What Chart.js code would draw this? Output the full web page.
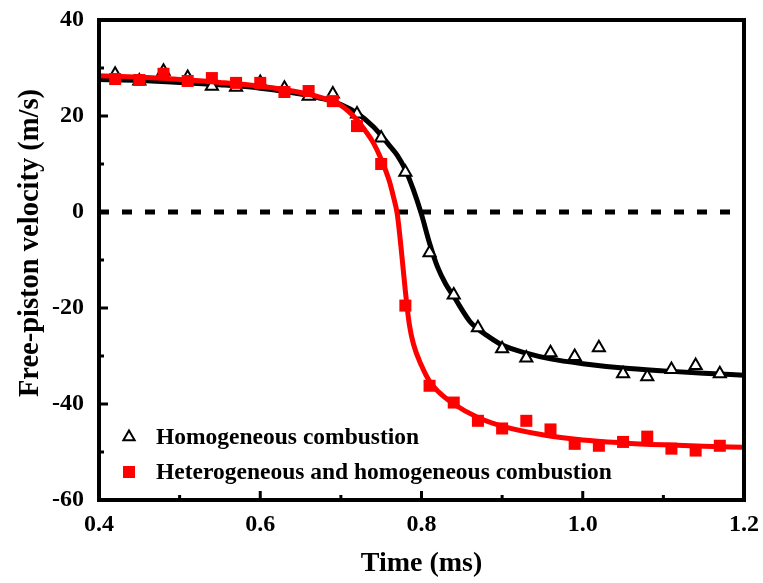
<!DOCTYPE html>
<html>
<head>
<meta charset="utf-8">
<script src="https://cdn.jsdelivr.net/npm/chart.js@4/dist/chart.umd.min.js"></script>
<style>
  html, body { margin: 0; padding: 0; background: #ffffff; }
  #wrap { width: 763px; height: 583px; }
</style>
</head>
<body>
<div id="wrap"><canvas id="c" width="763" height="583"></canvas></div>
<script>
// ---- data ----
const times = [0.42, 0.45, 0.48, 0.51, 0.54, 0.57, 0.60, 0.63, 0.66, 0.69, 0.72, 0.75, 0.78,
               0.81, 0.84, 0.87, 0.90, 0.93, 0.96, 0.99, 1.02, 1.05, 1.08, 1.11, 1.14, 1.17];
const homogeneous = [28.7, 27.3, 29.3, 28.0, 26.2, 26.0, 27.0, 25.8, 24.1, 24.6, 20.4, 15.4, 8.3,
                     -8.5, -17.3, -24.1, -28.5, -30.4, -29.3, -30.1, -28.3, -33.7, -34.3, -32.8, -32.0, -33.7];
const heterogeneous = [27.7, 27.5, 28.8, 27.3, 27.9, 26.9, 26.9, 25.0, 25.2, 23.1, 17.9, 10.0, -19.5,
                       -36.2, -39.7, -43.5, -45.1, -43.5, -45.3, -48.3, -48.7, -47.9, -46.8, -49.3, -49.7, -48.7];

const homFitT = [0.40, 0.45, 0.50, 0.55, 0.60, 0.65, 0.68, 0.70, 0.72, 0.74, 0.76, 0.77, 0.78, 0.79, 0.80,
                 0.81, 0.82, 0.83, 0.84, 0.86, 0.87, 0.88, 0.90, 0.93, 0.96, 1.00, 1.05, 1.10, 1.15, 1.20];
const homFitV = [27.6, 27.4, 27.0, 26.5, 25.8, 24.6, 23.5, 22.4, 20.6, 17.8, 13.9, 11.8, 8.8, 4.6, -0.5,
                 -6.5, -11.5, -15.0, -17.6, -22.8, -24.4, -25.6, -27.7, -29.4, -30.6, -31.6, -32.5, -33.1, -33.6, -34.0];
const hetFitT = [0.40, 0.45, 0.50, 0.55, 0.60, 0.65, 0.68, 0.70, 0.72, 0.73, 0.74, 0.75, 0.76, 0.765, 0.77,
                 0.775, 0.78, 0.785, 0.79, 0.80, 0.81, 0.82, 0.84, 0.87, 0.90, 0.95, 1.00, 1.05, 1.10, 1.15, 1.20];
const hetFitV = [28.4, 28.1, 27.6, 27.0, 26.2, 24.9, 23.6, 22.2, 19.2, 17.0, 14.5, 11.0, 6.5, 3.3, -0.5,
                 -8.0, -16.5, -23.5, -27.5, -32.0, -35.3, -37.3, -40.0, -42.8, -44.6, -46.4, -47.5, -48.1, -48.5, -48.8, -49.0];

const zeroLineT = [0.4, 1.2];
const zeroLineV = [0, 0];

const xMajorTicks = [0.4, 0.6, 0.8, 1.0, 1.2];
const xMinorTicks = [0.5, 0.7, 0.9, 1.1];
const yMajorTicks = [40, 20, 0, -20, -40, -60];
const yMinorTicks = [30, 10, -10, -30, -50];

const legendLabels = ['Homogeneous combustion', 'Heterogeneous and homogeneous combustion'];
const xTitle = 'Time (ms)';
const yTitle = 'Free-piston velocity (m/s)';

// ---- helpers ----
const pts = (xs, ys) => xs.map((x, i) => ({ x: x, y: ys[i] }));
const SERIF = '"Liberation Serif", "Times New Roman", "DejaVu Serif", serif';

const framePlugin = {
  id: 'framePlugin',
  afterDatasetsDraw(chart) {
    const ctx = chart.ctx;
    const a = chart.chartArea;
    const xs = chart.scales.x, ys = chart.scales.y;
    ctx.save();
    ctx.strokeStyle = '#000';
    ctx.lineCap = 'butt';
    // inward ticks
    ctx.lineWidth = 3;
    xMajorTicks.forEach(v => { const p = xs.getPixelForValue(v); ctx.beginPath(); ctx.moveTo(p, a.bottom); ctx.lineTo(p, a.bottom - 9); ctx.stroke(); });
    xMinorTicks.forEach(v => { const p = xs.getPixelForValue(v); ctx.beginPath(); ctx.moveTo(p, a.bottom); ctx.lineTo(p, a.bottom - 5); ctx.stroke(); });
    yMajorTicks.forEach(v => { const p = ys.getPixelForValue(v); ctx.beginPath(); ctx.moveTo(a.left, p); ctx.lineTo(a.left + 9, p); ctx.stroke(); });
    yMinorTicks.forEach(v => { const p = ys.getPixelForValue(v); ctx.beginPath(); ctx.moveTo(a.left, p); ctx.lineTo(a.left + 5, p); ctx.stroke(); });
    // frame
    ctx.lineWidth = 4;
    ctx.strokeRect(a.left, a.top, a.right - a.left, a.bottom - a.top);

    // legend
    ctx.font = 'bold 23.5px ' + SERIF;
    ctx.textBaseline = 'alphabetic';
    ctx.textAlign = 'left';
    const lx = 129, ly1 = 437, ly2 = 472;
    ctx.beginPath();
    const r = 6.5;
    ctx.moveTo(lx, ly1 - r);
    ctx.lineTo(lx + r * 0.866, ly1 + r * 0.5);
    ctx.lineTo(lx - r * 0.866, ly1 + r * 0.5);
    ctx.closePath();
    ctx.fillStyle = '#fff';
    ctx.fill();
    ctx.lineWidth = 2;
    ctx.strokeStyle = '#000';
    ctx.stroke();
    ctx.fillStyle = '#ff0000';
    ctx.fillRect(lx - 6, ly2 - 6, 12, 12);
    ctx.fillStyle = '#000';
    ctx.fillText(legendLabels[0], 156, 444);
    ctx.fillText(legendLabels[1], 156, 479);

    // y title
    ctx.save();
    ctx.font = 'bold 28.5px ' + SERIF;
    ctx.translate(31, 243);
    ctx.rotate(-Math.PI / 2);
    ctx.textAlign = 'center';
    ctx.textBaseline = 'middle';
    ctx.fillText(yTitle, 0, 0);
    ctx.restore();
    ctx.restore();
  }
};

new Chart(document.getElementById('c'), {
  type: 'line',
  data: {
    datasets: [
      { label: 'zero', data: pts(zeroLineT, zeroLineV), borderColor: '#000', borderWidth: 5,
        borderDash: [10, 13], pointRadius: 0, order: 6 },
      { label: 'Homogeneous fit', data: pts(homFitT, homFitV), borderColor: '#000', borderWidth: 5,
        pointRadius: 0, cubicInterpolationMode: 'monotone', order: 5 },
      { label: legendLabels[0], data: pts(times, homogeneous), showLine: false, pointStyle: 'triangle',
        pointRadius: 7, pointBorderWidth: 2, pointBackgroundColor: '#fff', pointBorderColor: '#000', order: 4 },
      { label: 'Heterogeneous fit', data: pts(hetFitT, hetFitV), borderColor: '#ff0000', borderWidth: 5,
        pointRadius: 0, cubicInterpolationMode: 'monotone', order: 3 },
      { label: legendLabels[1], data: pts(times, heterogeneous), showLine: false, pointStyle: 'rect',
        pointRadius: 8.5, pointBorderWidth: 0, pointBackgroundColor: '#ff0000', pointBorderColor: '#ff0000', order: 2 }
    ]
  },
  options: {
    responsive: false,
    animation: false,
    devicePixelRatio: 1,
    layout: { padding: { top: 20, right: 19, left: 0, bottom: 0 } },
    plugins: { legend: { display: false }, tooltip: { enabled: false } },
    scales: {
      x: {
        type: 'linear', min: 0.4, max: 1.2,
        afterBuildTicks: s => { s.ticks = xMajorTicks.map(v => ({ value: v })); },
        ticks: { font: { family: SERIF, size: 24, weight: 'bold' }, color: '#000', padding: 10,
                 callback: v => Number(v).toFixed(1), maxRotation: 0, autoSkip: false },
        grid: { display: false, drawTicks: false, tickLength: 0 },
        border: { display: false },
        title: { display: true, text: xTitle, color: '#000', font: { family: SERIF, size: 28, weight: 'bold' },
                 padding: { top: 0, bottom: 2 } },
        afterFit: s => { s.height = 83; s.paddingLeft = 0; s.paddingRight = 0; }
      },
      y: {
        type: 'linear', min: -60, max: 40,
        afterBuildTicks: s => { s.ticks = yMajorTicks.map(v => ({ value: v })); },
        ticks: { font: { family: SERIF, size: 24, weight: 'bold' }, color: '#000', padding: 15, autoSkip: false },
        grid: { display: false, drawTicks: false, tickLength: 0 },
        border: { display: false },
        afterFit: s => { s.width = 99; s.paddingTop = 0; s.paddingBottom = 0; }
      }
    }
  },
  plugins: [framePlugin]
});
</script>
</body>
</html>
